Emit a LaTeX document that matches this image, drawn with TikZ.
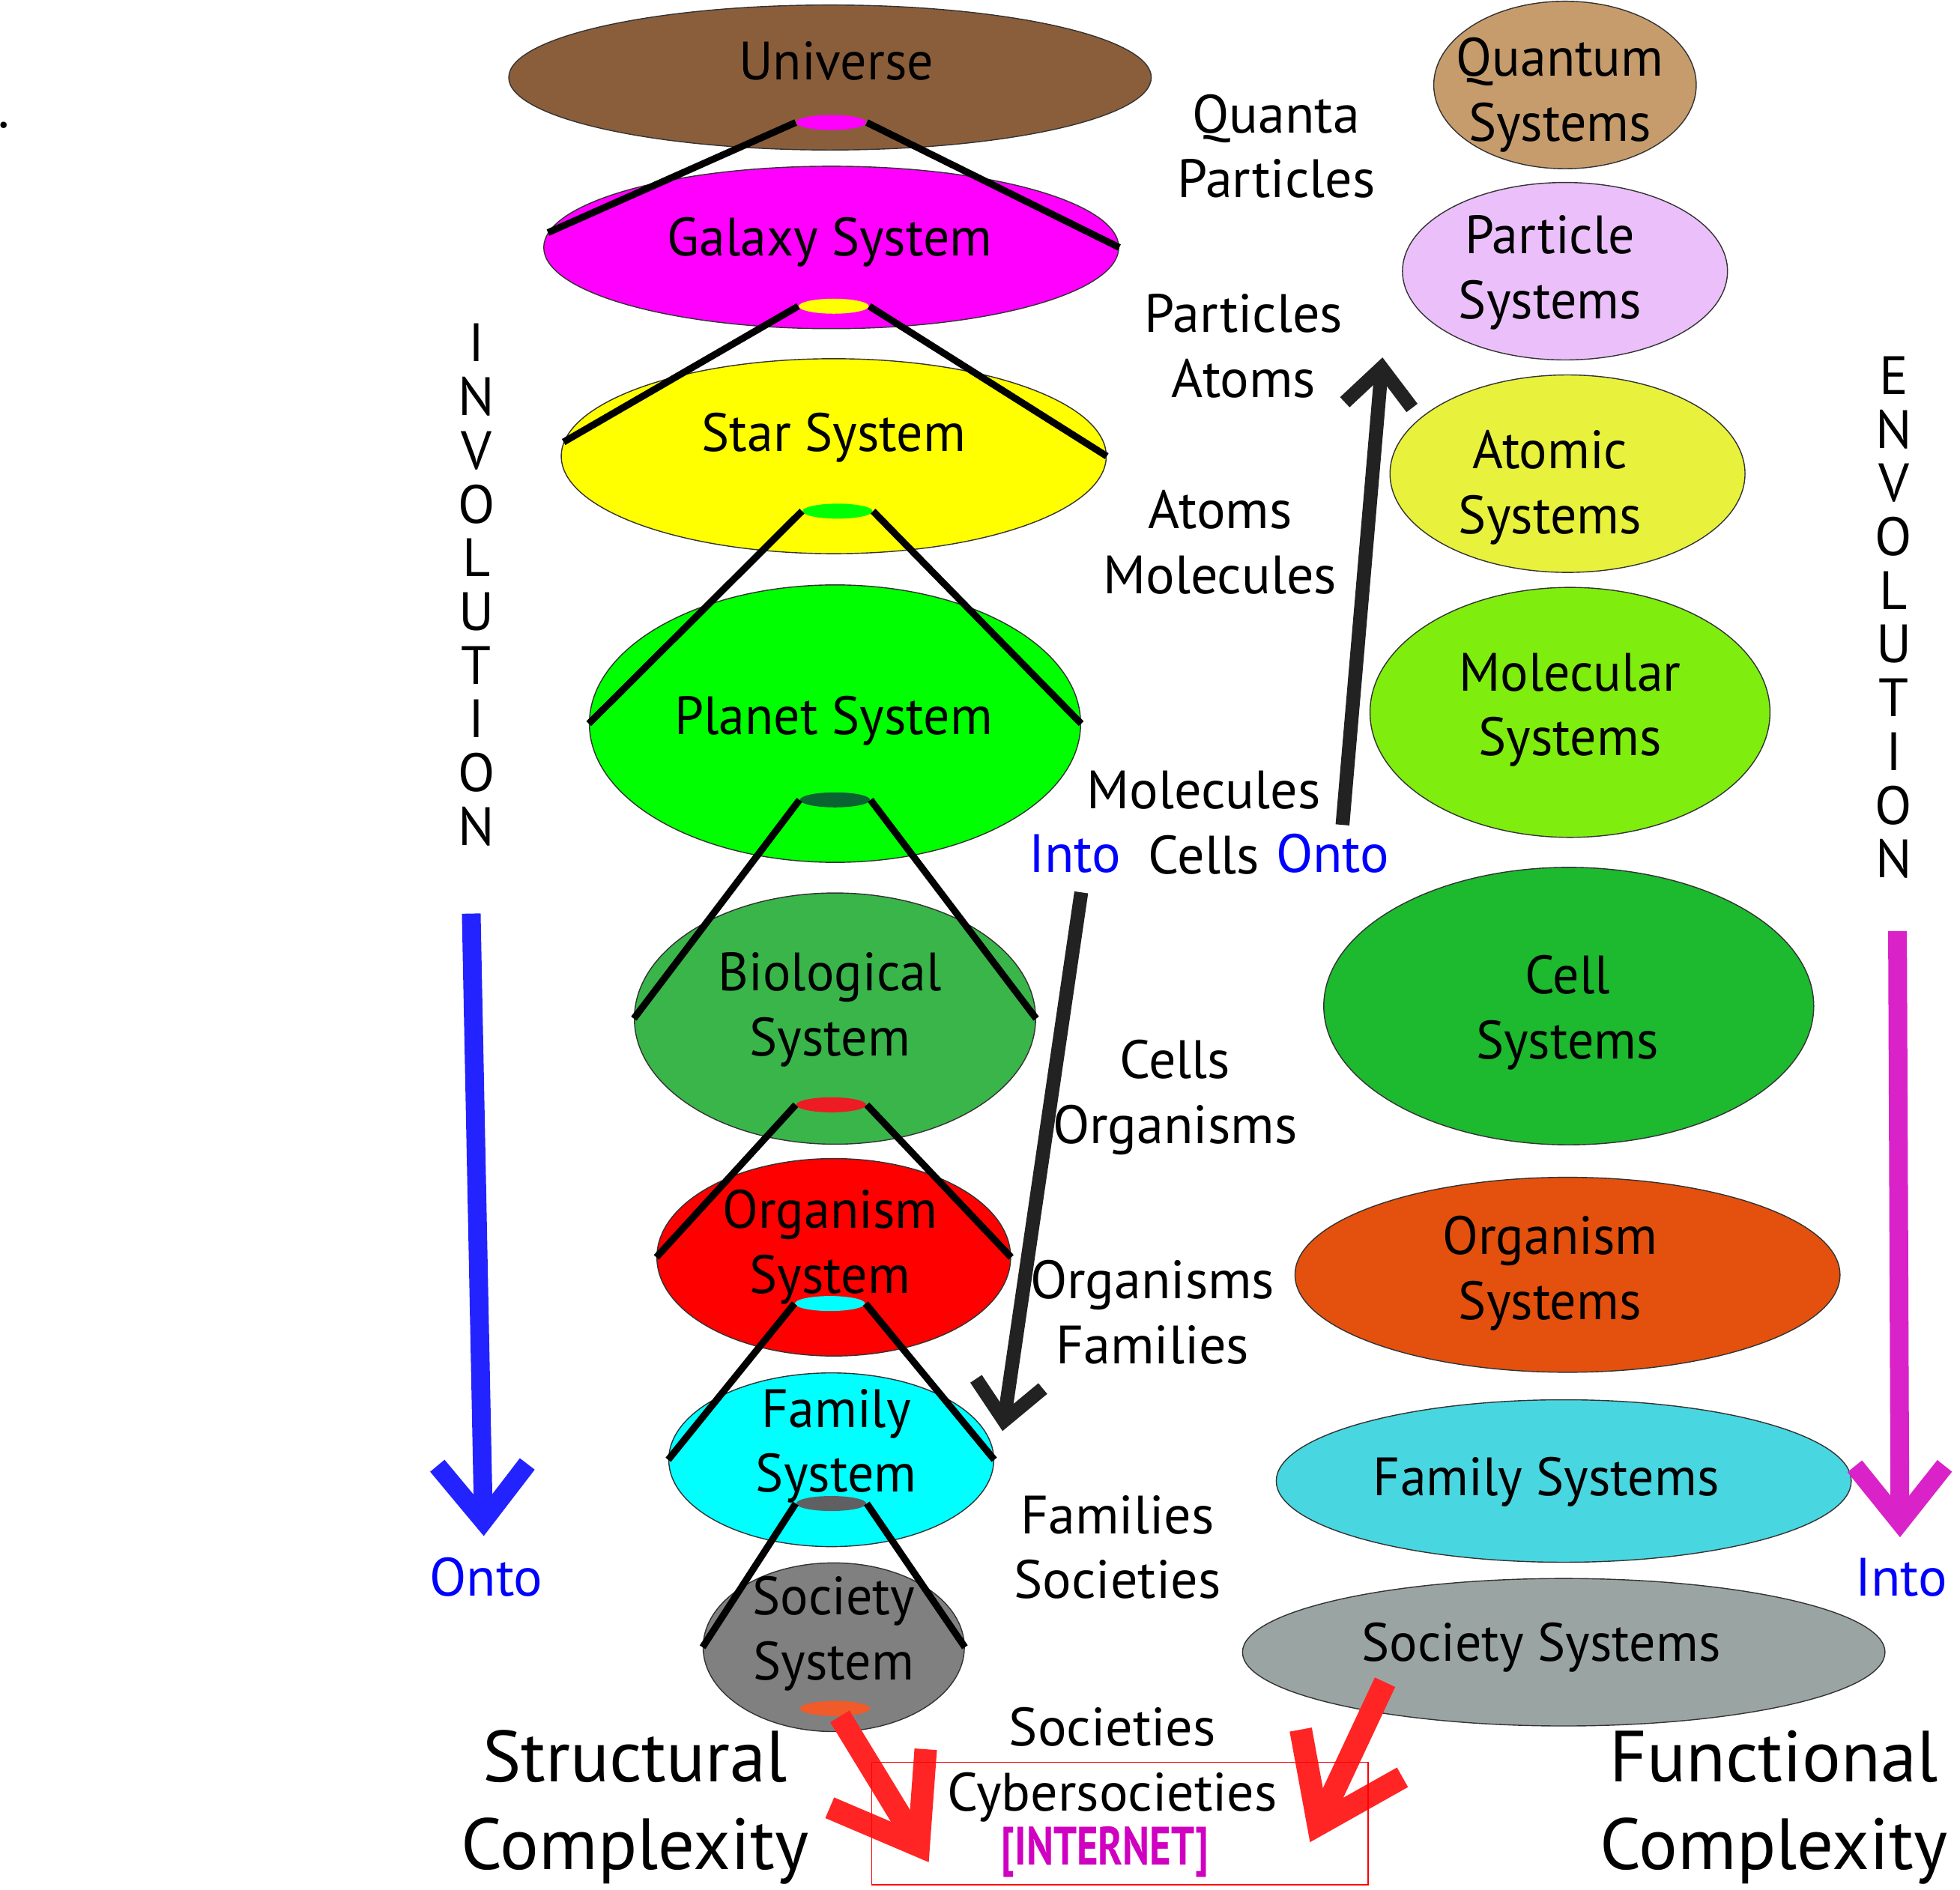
\documentclass[tikz,border=0pt]{standalone}
\usepackage{fontspec}
\setmainfont{PT Sans}
\newfontfamily\narrowfont[FakeStretch=0.97]{PT Sans}
\newfontfamily\inetfont[FakeStretch=0.76]{PT Sans}
\usepackage{tikz}
\usetikzlibrary{shapes.geometric,arrows.meta}
\usepackage{xcolor}

\definecolor{cuniverse}{RGB}{139,94,59}
\definecolor{cmagenta}{RGB}{255,0,255}
\definecolor{cyellow}{RGB}{255,255,0}
\definecolor{cgreen}{RGB}{0,255,0}
\definecolor{cred}{RGB}{255,0,0}
\definecolor{ccyan}{RGB}{0,255,255}
\definecolor{cgray}{RGB}{128,128,128}
\definecolor{cbio}{RGB}{57,181,74}
\definecolor{cdarkhole}{RGB}{10,100,50}
\definecolor{credhole}{RGB}{237,28,36}
\definecolor{cgrayhole}{RGB}{96,96,98}
\definecolor{corangehole}{RGB}{241,90,41}
\definecolor{cquantum}{RGB}{198,156,109}
\definecolor{cparticle}{RGB}{235,192,250}
\definecolor{catomic}{RGB}{232,242,60}
\definecolor{cmolecular}{RGB}{127,237,14}
\definecolor{ccell}{RGB}{29,185,46}
\definecolor{corgsys}{RGB}{228,80,14}
\definecolor{cfamsys}{RGB}{72,214,224}
\definecolor{csocsys}{RGB}{154,165,163}
\definecolor{cblue}{RGB}{0,0,255}
\definecolor{cbluearr}{RGB}{35,35,255}
\definecolor{cmagarr}{RGB}{217,35,200}
\definecolor{cdarkarr}{RGB}{34,34,34}
\definecolor{credarr}{RGB}{255,37,37}
\definecolor{cinternet}{RGB}{208,0,192}

\newcommand{\dpx}{0.1668mm}

\begin{document}
\begin{tikzpicture}[x=0.1668mm, y=-0.1668mm,
  sys node/.style n args={3}{ellipse, draw=black!80, line width=.4pt, inner sep=0pt, fill=#1, minimum width=#2*\dpx, minimum height=#3*\dpx},
  hole node/.style={ellipse, inner sep=0pt, fill=#1, minimum width=56*\dpx, minimum height=12*\dpx},
  cone/.style={line width=5.5*\dpx},
  name node/.style={font=\narrowfont\fontsize{20.5}{24.7}\selectfont, align=center},
  step node/.style={font=\fontsize{20.5}{24.7}\selectfont, align=center},
  big node/.style={font=\fontsize{27.5}{33.2}\selectfont, align=center},
  spell node/.style={font=\fontsize{20.5}{20.4}\selectfont, align=center}]
\useasboundingbox (0,0) rectangle (1568,1512);

% structural column
\node[sys node={cuniverse}{514}{116}] (universe) at (664,62) {};
\node[sys node={cmagenta}{460}{130}] (galaxy) at (665,198) {};
\node[sys node={cyellow}{436}{156}] (star) at (667,365) {};
\node[sys node={cgreen}{393}{222}] (planet) at (668,579) {};
\node[sys node={cbio}{321}{201}] (bio) at (668,815) {};
\node[sys node={cred}{283}{158}] (organism) at (667,1006) {};
\node[sys node={ccyan}{260}{139}] (family) at (665,1168) {};
\node[sys node={cgray}{209}{135}] (society) at (667,1318) {};

\node[hole node=cmagenta] (h1) at (665,98) {};
\node[hole node=cyellow] (h2) at (667,245) {};
\node[hole node=cgreen] (h3) at (670,409) {};
\node[hole node=cdarkhole] (h4) at (668,640) {};
\node[hole node=credhole] (h5) at (665,884) {};
\node[hole node=ccyan] (h6) at (664,1043) {};
\node[hole node=cgrayhole] (h7) at (665,1203) {};
\node[hole node=corangehole] (h8) at (668,1367) {};

\draw[cone] (h1.west) -- (galaxy.177) (h1.east) -- (galaxy.east);
\draw[cone] (h2.west) -- (star.177) (h2.east) -- (star.east);
\draw[cone] (h3.west) -- (planet.west) (h3.east) -- (planet.east);
\draw[cone] (h4.west) -- (bio.west) (h4.east) -- (bio.east);
\draw[cone] (h5.west) -- (organism.west) (h5.east) -- (organism.east);
\draw[cone] (h6.west) -- (family.west) (h6.east) -- (family.east);
\draw[cone] (h7.west) -- (society.west) (h7.east) -- (society.east);

\node[name node] (tuniverse) at (669,49) {Universe};
\node[name node] (tgalaxy) at (664,194) {Galaxy System};
\node[name node] (tstar) at (667,350) {Star System};
\node[name node] (tplanet) at (667,577) {Planet System};
\node[name node] (tbio) at (664,808) {Biological\\System};
\node[name node] (torganism) at (664,998) {Organism\\System};
\node[name node] (tfamily) at (669,1157) {Family\\System};
\node[name node] (tsociety) at (667,1307) {Society\\System};

% functional column
\node[sys node={cquantum}{210}{134}] (quantum) at (1252,68) {};
\node[sys node={cparticle}{260}{142}] (particle) at (1252,217) {};
\node[sys node={catomic}{284}{158}] (atomic) at (1254,379) {};
\node[sys node={cmolecular}{320}{200}] (molecular) at (1256,570) {};
\node[sys node={ccell}{392}{222}] (cell) at (1255,805) {};
\node[sys node={corgsys}{436}{156}] (orgsys) at (1254,1020) {};
\node[sys node={cfamsys}{460}{130}] (famsys) at (1251,1185) {};
\node[sys node={csocsys}{514}{118}] (socsys) at (1251,1322) {};

\node[name node] (tquantum) at (1248,76) {Quantum\\Systems};
\node[name node] (tparticle) at (1240,218) {Particle\\Systems};
\node[name node] (tatomic) at (1240,390) {Atomic\\Systems};
\node[name node] (tmolecular) at (1256,568) {Molecular\\Systems};
\node[name node] (tcell) at (1254,810) {Cell\\Systems};
\node[name node] (torgsys) at (1240,1019) {Organism\\Systems};
\node[name node] (tfamsys) at (1237,1186) {Family Systems};
\node[name node] (tsocsys) at (1233,1318) {Society Systems};

% steps in between
\node[step node] (s1) at (1021,117) {Quanta\\Particles};
\node[step node] (s2) at (995,277) {Particles\\Atoms};
\node[step node] (s3) at (976,434) {Atoms\\Molecules};
\node[step node] (s4) at (963,658) {Molecules\\Cells};
\node[step node] (s5) at (940,878) {Cells\\Organisms};
\node[step node] (s6) at (922,1050) {Organisms\\Families};
\node[step node] (s7) at (894,1238) {Families\\Societies};
\node[step node] (s8) at (890,1412) {Societies\\Cybersocieties};
\node[step node, text=cblue] (into1) at (860,683) {Into};
\node[step node, text=cblue] (onto1) at (1066,683) {Onto};
\node[font=\inetfont\bfseries\fontsize{20.5}{24}\selectfont, text=cinternet, inner sep=0pt] (internet) at (884,1482) {[INTERNET]};

\node[spell node] (invol) at (381,468) {I\\N\\V\\O\\L\\U\\T\\I\\O\\N};
\node[spell node] (envol) at (1515,494) {E\\N\\V\\O\\L\\U\\T\\I\\O\\N};
\node[step node, text=cblue] (onto2) at (389,1262) {Onto};
\node[step node, text=cblue] (into2) at (1521,1262) {Into};
\node[big node] (structural) at (508,1446) {Structural\\Complexity};
\node[big node] (functional) at (1419,1446) {Functional\\Complexity};
\node[step node, inner sep=0pt] (dot) at (3,100) {.};

% arrows
\coordinate (a1) at (377,731);
\coordinate (a2) at (387,1229);
\coordinate (b1) at (1518,745);
\coordinate (b2) at (1520,1230);
\coordinate (c1) at (1074,660);
\coordinate (c2) at (1106,286);
\coordinate (d1) at (865,714);
\coordinate (d2) at (802,1145);
\coordinate (e2) at (743,1490);
\coordinate (f1) at (1108,1346);
\coordinate (f2) at (1048,1474);
\draw[cbluearr, line width=2.5mm, -{Straight Barb[length=7.5mm, width=12mm]}] (a1) -- (a2);
\draw[cmagarr, line width=2.5mm, -{Straight Barb[length=7.5mm, width=12mm]}] (b1) -- (b2);
\draw[cdarkarr, line width=1.85mm, -{Straight Barb[length=5mm, width=9mm]}] (c1) -- (c2);
\draw[cdarkarr, line width=1.85mm, -{Straight Barb[length=5mm, width=9mm]}] (d1) -- (d2);
\draw[credarr, line width=3mm, -{Straight Barb[length=10.5mm, width=15mm]}] (h8) -- (e2);
\draw[credarr, line width=3mm, -{Straight Barb[length=10.5mm, width=15mm]}] (f1) -- (f2);
\node[draw=red, line width=.4pt, minimum width=397*\dpx, minimum height=98*\dpx] (cyberbox) at (896,1459) {};
\end{tikzpicture}
\end{document}
